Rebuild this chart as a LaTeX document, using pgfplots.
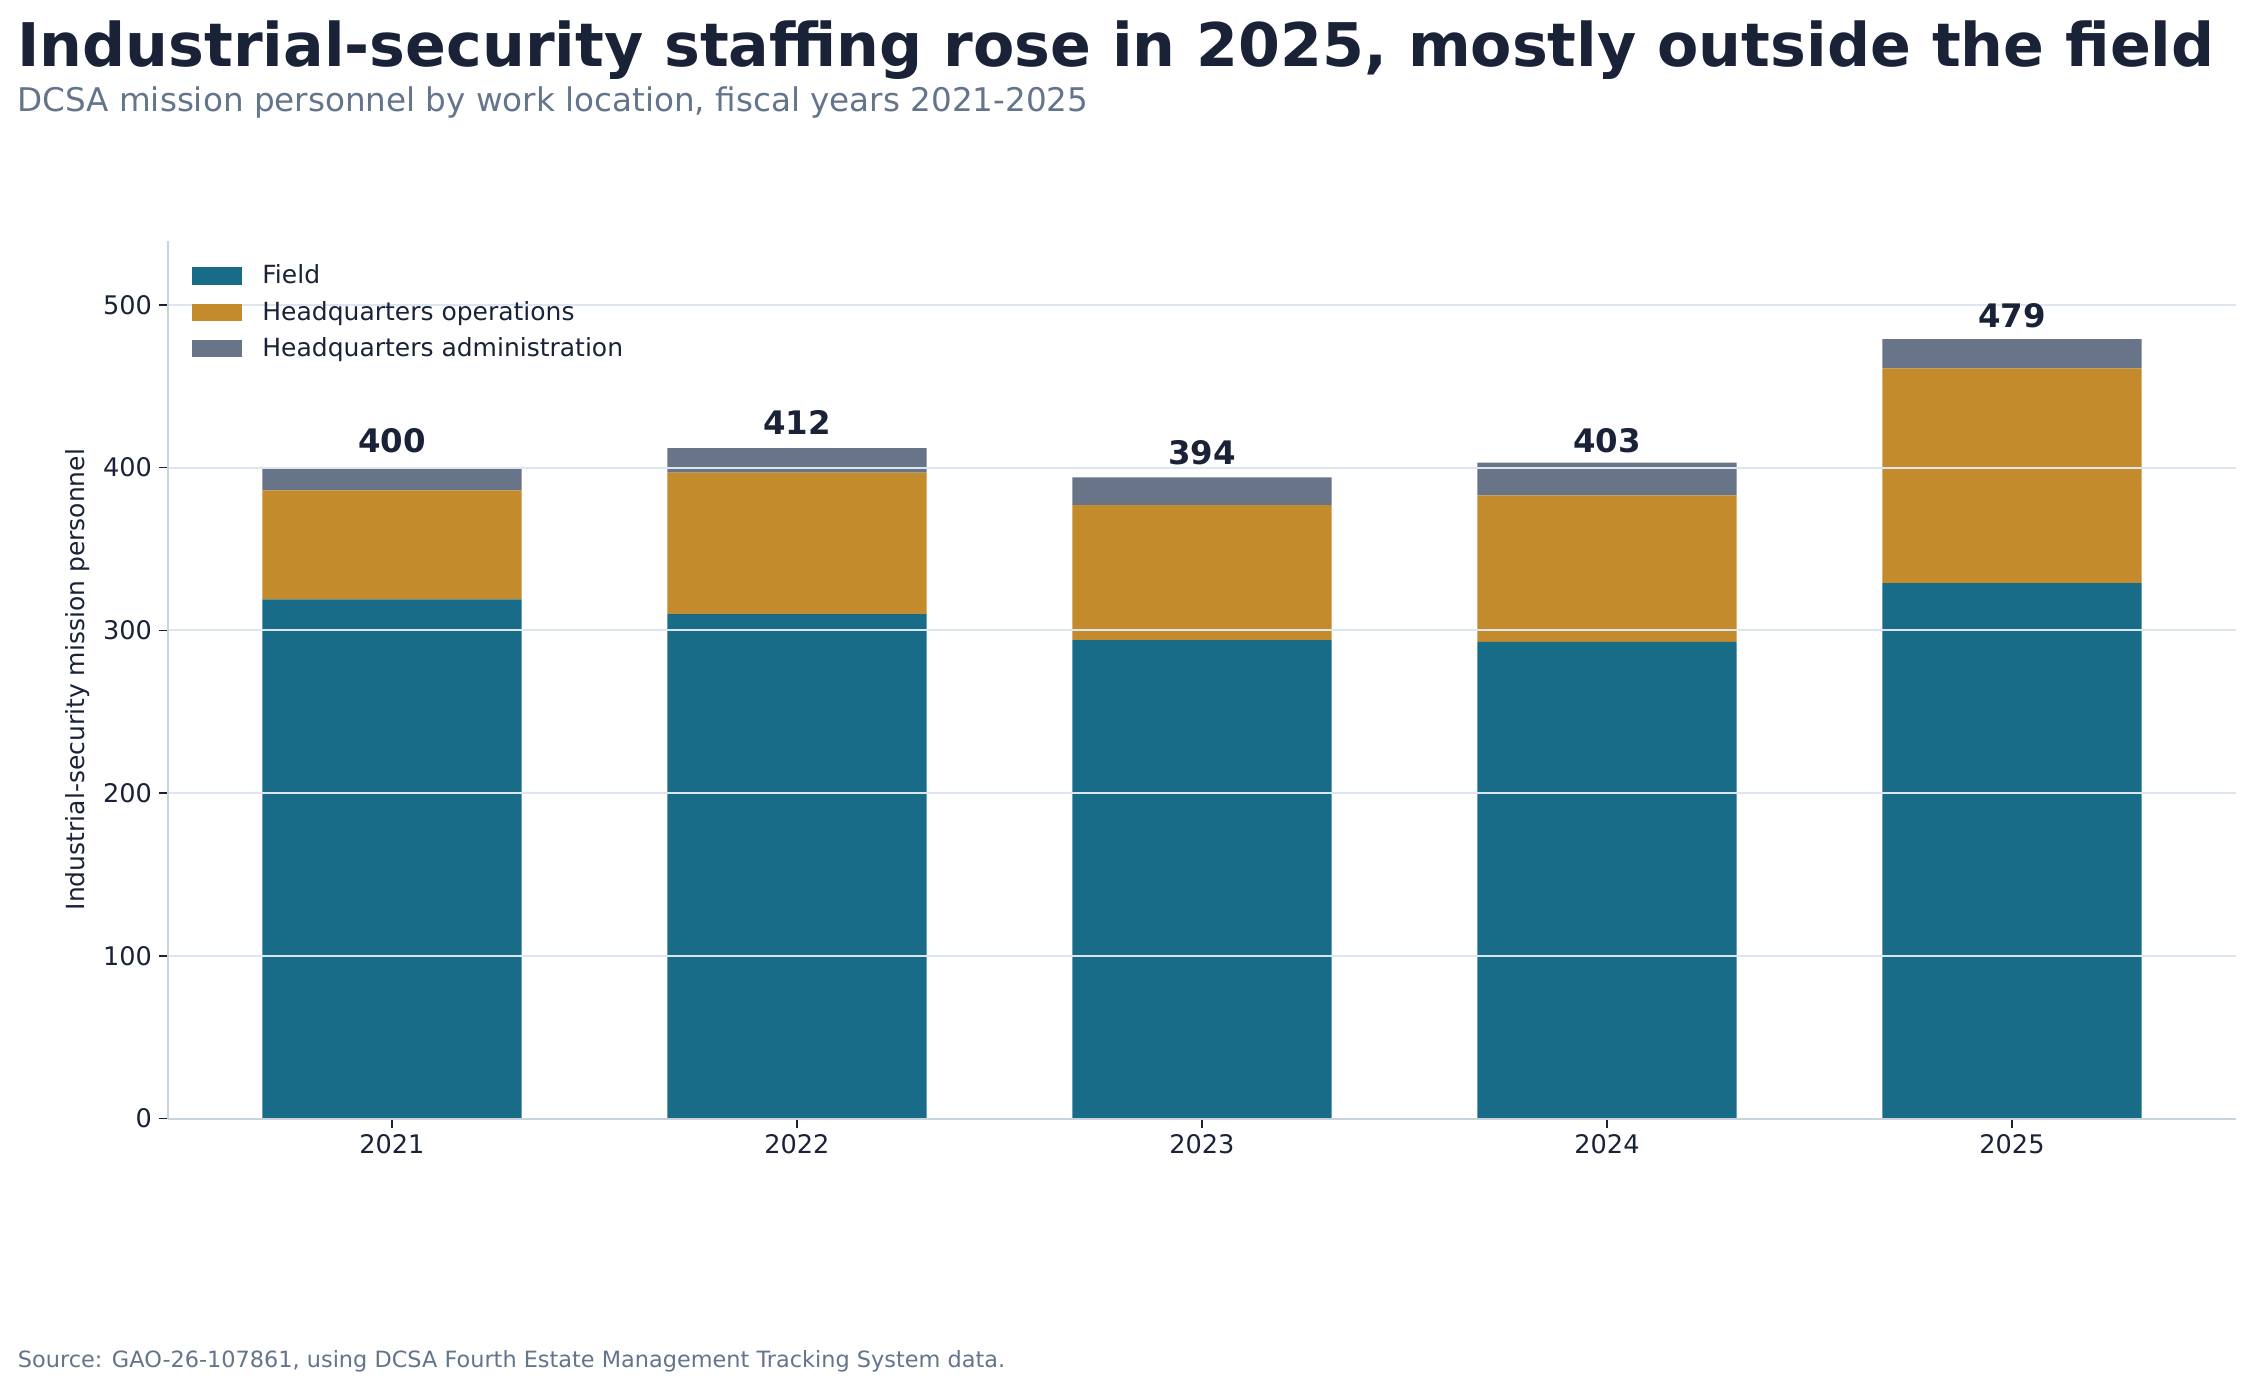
\documentclass[border=0pt]{standalone}
\usepackage{pgfplots}
\pgfplotsset{compat=1.18}
\usepackage{fontspec}
\setmainfont{DejaVu Sans}

\definecolor{fieldc}{HTML}{196C88}
\definecolor{opsc}{HTML}{C48B2C}
\definecolor{adminc}{HTML}{687588}
\definecolor{ink}{HTML}{1A2238}
\definecolor{muted}{HTML}{64748B}
\definecolor{gridc}{HTML}{DDE6EE}
\definecolor{spine}{HTML}{C8D3DC}

% fiscal year index, personnel by work location, total for the label
\pgfplotstableread{
x field ops admin total
0 319 67 14 400
1 310 87 15 412
2 294 83 17 394
3 293 90 20 403
4 329 132 18 479
}\staffing

\begin{document}
\begin{tikzpicture}
\path[use as bounding box] (0,0) rectangle (1126.5pt,694.5pt);

\node[anchor=base west, inner sep=0pt, text=ink, font=\fontsize{30.1}{36}\selectfont\bfseries]
  at (8.5pt,661pt) {Industrial-security staffing rose in 2025, mostly outside the field};
\node[anchor=base west, inner sep=0pt, text=muted, font=\fontsize{16.3}{19}\selectfont]
  at (8.5pt,638.5pt) {DCSA mission personnel by work location, fiscal years 2021-2025};
\node[anchor=base west, inner sep=0pt, text=muted, font=\fontsize{11.2}{13}\selectfont]
  at (8.8pt,11pt) {Source: GAO-26-107861, using DCSA Fourth Estate Management Tracking System data.};

\begin{axis}[
    at={(84pt,135.2pt)}, anchor=south west,
    scale only axis,
    width=1034pt, height=439pt,
    ybar stacked,
    bar width=0.64,
    xmin=-0.553, xmax=4.553,
    ymin=0, ymax=539.5,
    xtick={0,1,2,3,4},
    xticklabels={2021,2022,2023,2024,2025},
    ytick={0,100,200,300,400,500},
    axis x line*=bottom,
    axis y line*=left,
    axis line style={spine, line width=1pt},
    tick align=outside,
    major tick length=4.5pt,
    tick style={ink, line width=0.8pt},
    ymajorgrids,
    grid style={gridc, line width=0.9pt},
    axis on top,
    ticklabel style={text=ink, font=\fontsize{12.8}{15}\selectfont},
    /pgf/number format/assume math mode=true,
    ylabel={Industrial-security mission personnel},
    ylabel style={text=ink, font=\fontsize{12.5}{15}\selectfont},
    legend style={at={(0,1)}, anchor=north west, xshift=9pt, yshift=-10pt,
      draw=none, fill=none, text=ink, font=\fontsize{12.5}{15}\selectfont,
      row sep=7.2pt, legend cell align=left,
      nodes={inner sep=0pt}, cells={anchor=west}},
    legend image code/.code={\fill[#1] (0pt,-4.3pt) rectangle (25pt,4.3pt);},
  ]
\addplot[draw=none, fill=fieldc] table[x=x, y=field] {\staffing};
\addplot[draw=none, fill=opsc] table[x=x, y=ops] {\staffing};
\addplot[draw=none, fill=adminc,
    nodes near coords, point meta=explicit,
    every node near coord/.append style={text=ink, anchor=south, yshift=9.5pt,
      font=\fontsize{16.2}{19}\selectfont\bfseries}]
  table[x=x, y=admin, meta=total] {\staffing};
\legend{\hspace{10pt}Field, \hspace{10pt}Headquarters operations, \hspace{10pt}Headquarters administration}
\end{axis}
\end{tikzpicture}
\end{document}
